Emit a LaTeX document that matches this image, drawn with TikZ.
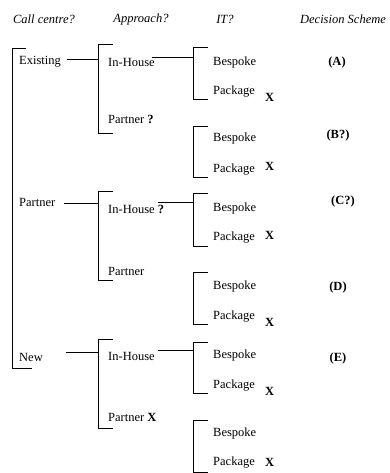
\documentclass[tikz,border=0pt]{standalone}
\usepackage{fontspec}
\setmainfont{Liberation Serif}
\usetikzlibrary{positioning}
\tikzset{
  opt/.style={anchor=west,inner sep=0pt,font=\fontsize{12.5}{14}\selectfont},
  head/.style={inner sep=0pt,font=\fontsize{12.5}{14}\selectfont\itshape},
  res/.style={inner sep=0pt,font=\fontsize{12.5}{14}\selectfont\bfseries},
  cross/.style={anchor=west,inner sep=0pt,font=\fontsize{12.5}{14}\selectfont\bfseries},
  brk/.style={draw,line width=0.8pt}
}

\begin{document}
\begin{tikzpicture}[x=1pt,y=-1pt]
  \useasboundingbox (0,0) rectangle (390,473);
  \node[head] (hcc) at (44,19) {Call centre?};
  \node[head] (hap) at (141,19) {Approach?};
  \node[head] (hit) at (225,19) {IT?};
  \node[head] (hds) at (343,19) {Decision Scheme};

  \node[opt] (ex) at (19,62) {Existing};
  \node[opt] (pa) at (19,202) {Partner};
  \node[opt] (nw) at (19,357) {New};
  \draw[brk] (26,48) -- (12,48) -- (12,368) -- (32,368);

  \node[opt] (ih1) at (108,62) {In-House};
  \node[opt] (pt1) at (108,119) {Partner \textbf{?}};
  \node[opt] (ih2) at (108,209) {In-House \textbf{?}};
  \node[opt] (pt2) at (108,271) {Partner};
  \node[opt] (ih3) at (108,356) {In-House};
  \node[opt] (pt3) at (108,417) {Partner \textbf{X}};
  \foreach \t/\b in {44/133,191/280,339/428}
    \draw[brk] (113,\t) -- (98,\t) -- (98,\b) -- (113,\b);

  \coordinate (a1) at (98,59);
  \coordinate (a2) at (98,203);
  \coordinate (a3) at (98,352);
  \draw[brk] ([xshift=6pt,yshift=3pt]ex.east) -- (a1);
  \draw[brk] ([xshift=9pt,yshift=-1pt]pa.east) -- (a2);
  \draw[brk] ([xshift=23pt,yshift=5pt]nw.east) -- (a3);

  \foreach \t/\b in {47/99,126/177,193/246,272/324,342/393,420/472}
    \draw[brk] (208,\t) -- (193,\t) -- (193,\b) -- (208,\b);
  \node[opt] (be1) at (213,62) {Bespoke};
  \node[opt] (pk1) at (213,92) {Package};
  \node[opt] (be2) at (213,138) {Bespoke};
  \node[opt] (pk2) at (213,170) {Package};
  \node[opt] (be3) at (213,208) {Bespoke};
  \node[opt] (pk3) at (213,238) {Package};
  \node[opt] (be4) at (213,286) {Bespoke};
  \node[opt] (pk4) at (213,317) {Package};
  \node[opt] (be5) at (213,355) {Bespoke};
  \node[opt] (pk5) at (213,386) {Package};
  \node[opt] (be6) at (213,433) {Bespoke};
  \node[opt] (pk6) at (213,463) {Package};

  \node[cross] (x1) at (265,97) {X};
  \node[cross] (x2) at (265,166) {X};
  \node[cross] (x3) at (265,235) {X};
  \node[cross] (x4) at (265,322) {X};
  \node[cross] (x5) at (265,391) {X};
  \node[cross] (x6) at (265,462) {X};

  \coordinate (t1) at (193,57);
  \coordinate (t3) at (193,202);
  \coordinate (t5) at (193,350);
  \draw[brk] ([xshift=-3pt,yshift=5pt]ih1.east) -- (t1);
  \draw[brk] ([xshift=-6pt,yshift=7pt]ih2.east) -- (t3);
  \draw[brk] ([xshift=3pt,yshift=6pt]ih3.east) -- (t5);

  \node[res] (rA) at (337,62) {(A)};
  \node[res] (rB) at (338,135) {(B?)};
  \node[res] (rC) at (343,201) {(C?)};
  \node[res] (rD) at (338,287) {(D)};
  \node[res] (rE) at (338,358) {(E)};
\end{tikzpicture}
\end{document}
